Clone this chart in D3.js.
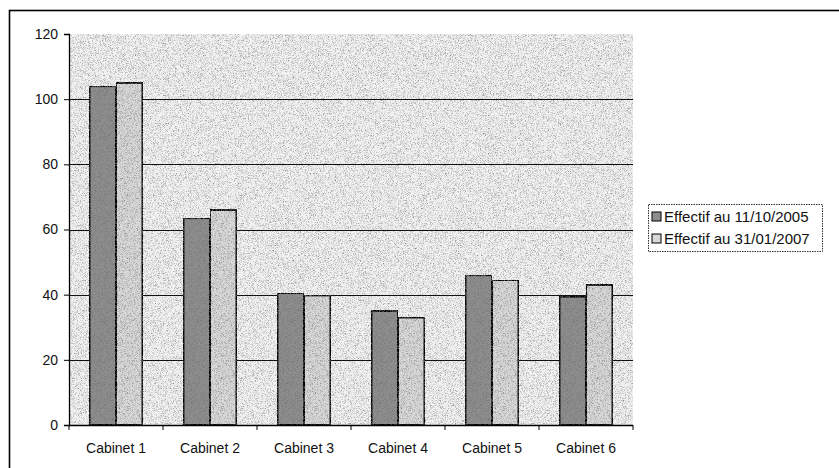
<!DOCTYPE html>
<html>
<head>
<meta charset="utf-8">
<script src="https://cdn.jsdelivr.net/npm/d3@7"></script>
<style>
  html, body { margin: 0; padding: 0; background: #fff; }
  svg { display: block; font-family: "Liberation Sans", Arial, sans-serif; }
</style>
</head>
<body>
<svg id="chart" width="839" height="468"></svg>
<script>
// Staff counts per office at two dates
const categories = ["Cabinet 1", "Cabinet 2", "Cabinet 3", "Cabinet 4", "Cabinet 5", "Cabinet 6"];
const seriesNames = ["Effectif au 11/10/2005", "Effectif au 31/01/2007"];
const effectif2005 = [104, 63.5, 40.5, 35, 46, 39.4];
const effectif2007 = [105, 66, 39.8, 33, 44.5, 43];
const yTicks = [0, 20, 40, 60, 80, 100, 120];

const svg = d3.select("#chart");
const fills = ["#8e8e8e", "#d8d8d8"];

// fine stipple texture used by the plot area and bars
const defs = svg.append("defs");
const grain = defs.append("filter").attr("id", "grain")
  .attr("x", 0).attr("y", 0).attr("width", 1).attr("height", 1);
grain.append("feTurbulence").attr("type", "fractalNoise")
  .attr("baseFrequency", 1.4).attr("numOctaves", 1).attr("seed", 3).attr("result", "noise");
grain.append("feColorMatrix").attr("in", "noise").attr("type", "matrix")
  .attr("values", "0 0 0 0 0.15  0 0 0 0 0.15  0 0 0 0 0.15  0 0 0 -2.4 1.3")
  .attr("result", "dots");
grain.append("feComposite").attr("in", "dots").attr("in2", "SourceGraphic")
  .attr("operator", "in").attr("result", "dotsIn");
grain.append("feMerge").call(m => {
  m.append("feMergeNode").attr("in", "SourceGraphic");
  m.append("feMergeNode").attr("in", "dotsIn");
});

// outer frame (runs off the right and bottom edges)
svg.append("rect").attr("x", 9.5).attr("y", 10.5).attr("width", 860).attr("height", 480)
  .attr("fill", "none").attr("stroke", "#000").attr("stroke-width", 1.6);

const plot = { left: 69, top: 34, right: 633, bottom: 425 };

const x0 = d3.scaleBand().domain(categories).range([plot.left, plot.right]).padding(0);
const bw = x0.bandwidth();
const gap = bw * 0.218;
const x1 = d3.scaleBand().domain(seriesNames).range([gap, bw - gap]).padding(0);
const y = d3.scaleLinear().domain([0, 120]).range([plot.bottom, plot.top]);

// plot area background
svg.append("rect")
  .attr("x", plot.left).attr("y", plot.top)
  .attr("width", plot.right - plot.left).attr("height", plot.bottom - plot.top)
  .attr("fill", "#f2f2f2").attr("filter", "url(#grain)");

// horizontal gridlines
svg.append("g").selectAll("line")
  .data(yTicks.filter(t => t > 0 && t < 120))
  .join("line")
  .attr("x1", plot.left).attr("x2", plot.right)
  .attr("y1", d => Math.round(y(d)) + 0.5).attr("y2", d => Math.round(y(d)) + 0.5)
  .attr("stroke", "#111").attr("stroke-width", 1.2);

// bars
const rows = categories.map((c, i) => ({ cat: c, vals: [effectif2005[i], effectif2007[i]] }));
const groups = svg.append("g").selectAll("g")
  .data(rows).join("g")
  .attr("transform", d => `translate(${x0(d.cat)},0)`);
groups.selectAll("rect")
  .data(d => d.vals.map((v, k) => ({ v, k })))
  .join("rect")
  .attr("x", d => x1(seriesNames[d.k]))
  .attr("y", d => y(d.v))
  .attr("width", x1.bandwidth())
  .attr("height", d => y(0) - y(d.v))
  .attr("fill", d => fills[d.k])
  .attr("stroke", "#000").attr("stroke-width", 2)
  .attr("filter", "url(#grain)");

// y axis
const yAxis = d3.axisLeft(y).tickValues(yTicks).tickSize(5).tickPadding(6);
const gy = svg.append("g").attr("transform", `translate(${plot.left},0)`).call(yAxis);
gy.select(".domain").attr("stroke", "#000").attr("stroke-width", 1.3);
gy.selectAll(".tick line").attr("stroke", "#000");
gy.selectAll(".tick text").attr("font-size", 14).attr("fill", "#111")
  .attr("font-family", "Liberation Sans, Arial, sans-serif");

// x axis with ticks at category boundaries
const gx = svg.append("g").attr("transform", `translate(0,${plot.bottom})`);
gx.append("line").attr("x1", plot.left).attr("x2", plot.right)
  .attr("y1", 0.5).attr("y2", 0.5).attr("stroke", "#000").attr("stroke-width", 1.6);
gx.selectAll("line.tk")
  .data(categories.map(c => x0(c)).concat([plot.right]))
  .join("line").attr("class", "tk")
  .attr("x1", d => d).attr("x2", d => d).attr("y1", 0).attr("y2", 5)
  .attr("stroke", "#000");
gx.selectAll("text")
  .data(categories).join("text")
  .attr("x", d => x0(d) + bw / 2).attr("y", 28)
  .attr("text-anchor", "middle").attr("font-size", 14).attr("fill", "#111")
  .text(d => d);

// legend
const lg = svg.append("g").attr("transform", "translate(648,204)");
lg.append("rect").attr("x", 0.5).attr("y", 0.5).attr("width", 174).attr("height", 47)
  .attr("fill", "#fff").attr("stroke", "#333").attr("stroke-dasharray", "1.5,1");
const items = lg.selectAll("g.item").data(seriesNames).join("g").attr("class", "item")
  .attr("transform", (d, i) => `translate(4,${8 + i * 22})`);
items.append("rect").attr("width", 9).attr("height", 9)
  .attr("fill", (d, i) => fills[i]).attr("stroke", "#000").attr("stroke-width", 1);
items.append("text").attr("x", 12).attr("y", 9.5)
  .attr("font-size", 15).attr("fill", "#111").text(d => d);
</script>
</body>
</html>
